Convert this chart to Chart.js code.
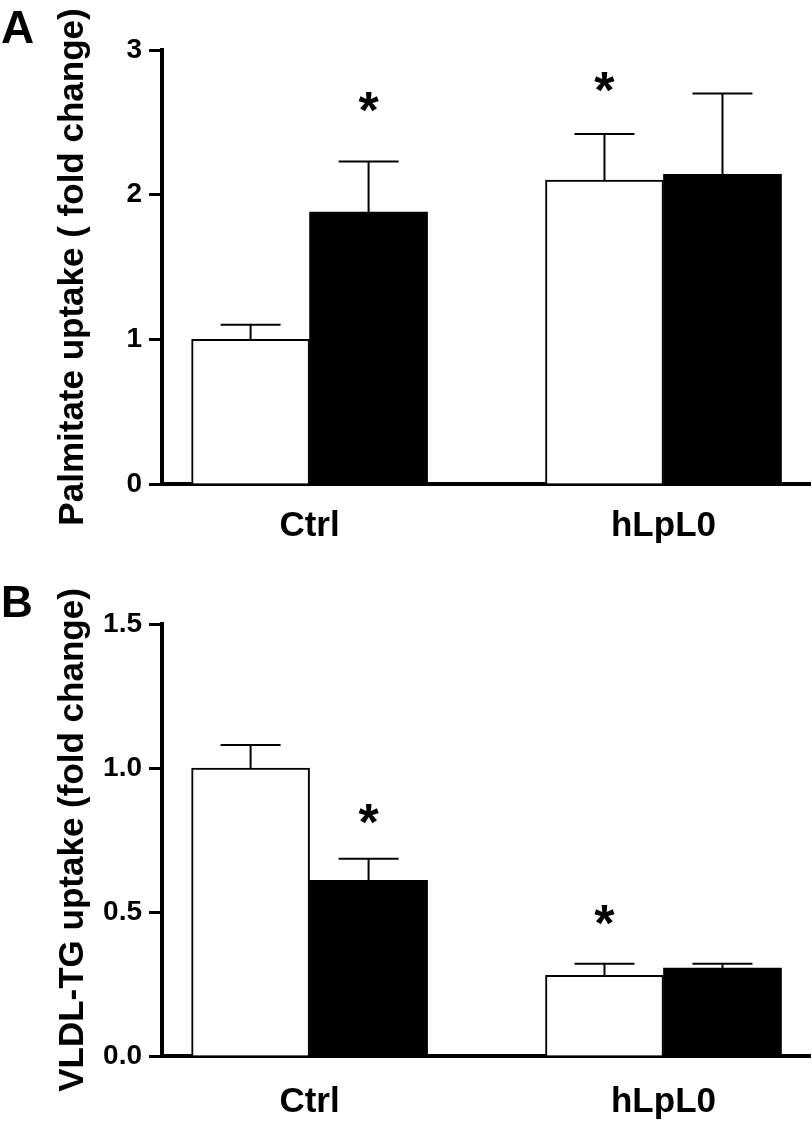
<!DOCTYPE html>
<html>
<head>
<meta charset="utf-8">
<script src="https://cdn.jsdelivr.net/npm/chart.js@4"></script>
<style>
  body { margin: 0; background: #fff; }
  #wrap { position: relative; width: 812px; height: 1128px; }
  canvas { position: absolute; left: 0; }
  #chartA { top: 0; }
  #chartB { top: 550px; }
</style>
</head>
<body>
<div id="wrap">
  <canvas id="chartA" width="812" height="550"></canvas>
  <canvas id="chartB" width="812" height="578"></canvas>
</div>
<script>
// groups on the x axis
const groups = ['Ctrl', 'hLpL0'];

// Panel A - palmitate uptake
const palmWhite = [1.00, 2.10];
const palmWhiteErr = [0.10, 0.32];
const palmBlack = [1.88, 2.14];
const palmBlackErr = [0.35, 0.56];
const palmStarsWhite = [null, 2.78];
const palmStarsBlack = [2.64, null];
const palmTicks = [0, 1, 2, 3];

// Panel B - VLDL-TG uptake
const vldlWhite = [1.00, 0.28];
const vldlWhiteErr = [0.08, 0.04];
const vldlBlack = [0.61, 0.305];
const vldlBlackErr = [0.075, 0.015];
const vldlStarsWhite = [null, 0.49];
const vldlStarsBlack = [0.84, null];
const vldlTicks = [0, 0.5, 1.0, 1.5];

const FONT = "'Liberation Sans', Arial, sans-serif";

// error bars + significance stars, drawn through the y scale
const errorBars = {
    id: 'errorBars',
    afterDatasetsDraw(chart) {
        const ctx = chart.ctx;
        const yScale = chart.scales.y;
        ctx.save();
        ctx.strokeStyle = '#000';
        ctx.fillStyle = '#000';
        ctx.lineWidth = 2;
        chart.data.datasets.forEach((ds, i) => {
            const meta = chart.getDatasetMeta(i);
            meta.data.forEach((bar, j) => {
                const top = yScale.getPixelForValue(ds.data[j].y + ds.errors[j]);
                ctx.beginPath();
                ctx.moveTo(bar.x, bar.y);
                ctx.lineTo(bar.x, top);
                ctx.moveTo(bar.x - 30, top);
                ctx.lineTo(bar.x + 30, top);
                ctx.stroke();
                if (ds.stars[j] != null) {
                    ctx.font = 'bold 52px ' + FONT;
                    ctx.textAlign = 'center';
                    ctx.textBaseline = 'alphabetic';
                    const m = ctx.measureText('*');
                    const cy = yScale.getPixelForValue(ds.stars[j]);
                    ctx.fillText('*', bar.x, cy + (m.actualBoundingBoxAscent - m.actualBoundingBoxDescent) / 2);
                }
            });
        });
        ctx.restore();
    }
};

// panel letter in the top left corner
const panelLetter = {
    id: 'panelLetter',
    afterDraw(chart, args, opts) {
        const ctx = chart.ctx;
        ctx.save();
        ctx.font = 'bold ' + opts.size + 'px ' + FONT;
        ctx.fillStyle = '#000';
        ctx.textBaseline = 'alphabetic';
        ctx.fillText(opts.text, 1, opts.baseline);
        ctx.restore();
    }
};

function makeChart(id, cfg) {
    const toPoints = arr => arr.map((v, i) => ({ x: i + 1, y: v }));
    return new Chart(document.getElementById(id), {
        type: 'bar',
        data: {
            datasets: [
                {
                    data: toPoints(cfg.white),
                    errors: cfg.whiteErr,
                    stars: cfg.starsWhite,
                    backgroundColor: '#fff',
                    borderColor: '#000',
                    borderWidth: 2
                },
                {
                    data: toPoints(cfg.black),
                    errors: cfg.blackErr,
                    stars: cfg.starsBlack,
                    backgroundColor: '#000',
                    borderColor: '#000',
                    borderWidth: 0
                }
            ]
        },
        options: {
            responsive: false,
            animation: false,
            events: [],
            barThickness: 118,
            layout: { padding: { top: cfg.padTop, left: 0, right: 2, bottom: 0 } },
            plugins: {
                legend: { display: false },
                tooltip: { enabled: false },
                panelLetter: cfg.letter
            },
            scales: {
                x: {
                    type: 'linear',
                    min: 0.583,
                    max: 2.414,
                    offset: false,
                    afterFit: s => { s.height = cfg.xHeight; },
                    afterBuildTicks: s => { s.ticks = groups.map((g, i) => ({ value: i + 1 })); },
                    grid: { display: false, drawTicks: false },
                    border: { display: true, color: '#000', width: 4 },
                    ticks: {
                        autoSkip: false,
                        maxRotation: 0,
                        padding: cfg.xPad,
                        color: '#000',
                        font: { family: FONT, size: 35, weight: 'bold' },
                        callback: v => groups[v - 1]
                    }
                },
                y: {
                    min: 0,
                    max: cfg.ticks[cfg.ticks.length - 1],
                    afterFit: s => { s.width = 162; },
                    afterBuildTicks: s => { s.ticks = cfg.ticks.map(v => ({ value: v })); },
                    grid: {
                        drawOnChartArea: false,
                        drawTicks: true,
                        tickLength: 13,
                        tickWidth: 3,
                        tickColor: '#000'
                    },
                    border: { display: true, color: '#000', width: 4 },
                    ticks: {
                        padding: 7,
                        color: '#000',
                        font: { family: FONT, size: 28, weight: 'bold' },
                        callback: v => cfg.fmt(v)
                    },
                    title: {
                        display: true,
                        text: cfg.title,
                        color: '#000',
                        padding: { top: 52, bottom: 0 },
                        font: { family: FONT, size: 35, weight: 'bold' }
                    }
                }
            }
        },
        plugins: [errorBars, panelLetter]
    });
}

makeChart('chartA', {
    white: palmWhite, whiteErr: palmWhiteErr,
    black: palmBlack, blackErr: palmBlackErr,
    starsWhite: palmStarsWhite, starsBlack: palmStarsBlack,
    ticks: palmTicks,
    fmt: v => String(v),
    title: 'Palmitate uptake ( fold change)',
    padTop: 50, xHeight: 66, xPad: 21,
    letter: { text: 'A', size: 46, baseline: 43 }
});

makeChart('chartB', {
    white: vldlWhite, whiteErr: vldlWhiteErr,
    black: vldlBlack, blackErr: vldlBlackErr,
    starsWhite: vldlStarsWhite, starsBlack: vldlStarsBlack,
    ticks: vldlTicks,
    fmt: v => v.toFixed(1),
    title: 'VLDL-TG uptake (fold change)',
    padTop: 74, xHeight: 72, xPad: 25,
    letter: { text: 'B', size: 44, baseline: 67 }
});
</script>
</body>
</html>
